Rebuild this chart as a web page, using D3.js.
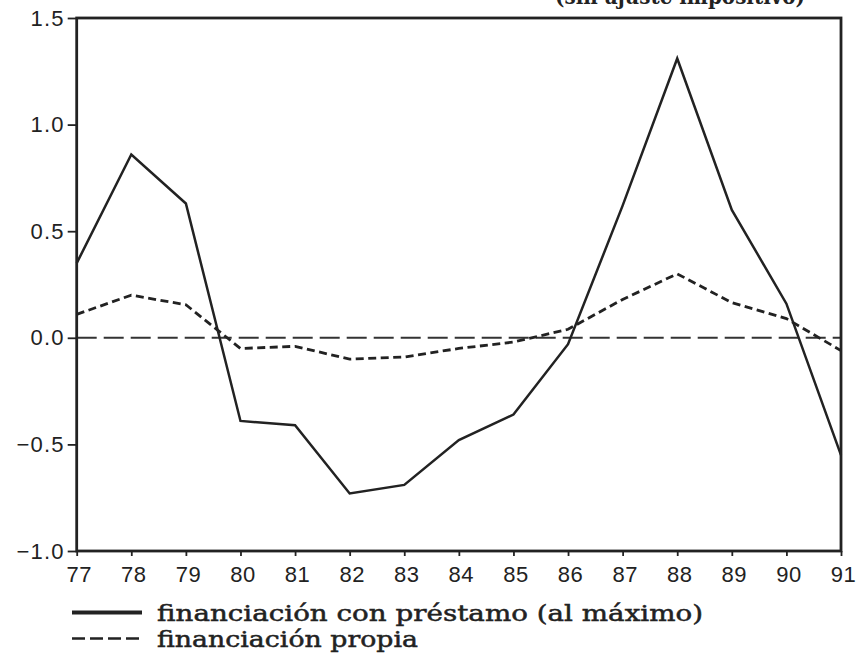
<!DOCTYPE html>
<html>
<head>
<meta charset="utf-8">
<script src="https://cdn.jsdelivr.net/npm/d3@7"></script>
<style>
  html, body { margin: 0; padding: 0; background: #fff; }
  svg { display: block; }
</style>
</head>
<body>
<svg id="chart" width="861" height="662"></svg>
<script>
// ---- data ----
const years = [77, 78, 79, 80, 81, 82, 83, 84, 85, 86, 87, 88, 89, 90, 91];
const prestamo = [0.35, 0.86, 0.63, -0.39, -0.41, -0.73, -0.69, -0.48, -0.36, -0.03, 0.62, 1.31, 0.60, 0.16, -0.55];
const propia = [0.11, 0.20, 0.155, -0.05, -0.04, -0.10, -0.09, -0.05, -0.02, 0.04, 0.18, 0.30, 0.165, 0.09, -0.06];
const yTicks = [-1.0, -0.5, 0.0, 0.5, 1.0, 1.5];
const seriesNames = ["financiación con préstamo (al máximo)", "financiación propia"];
const titleText = "(sin ajuste impositivo)";

// ---- layout ----
const svg = d3.select("#chart");
const plotLeft = 76.7, plotRight = 841, plotTop = 18, plotBottom = 551;
const ink = "#222";

const x = d3.scaleLinear().domain([77, 91]).range([plotLeft, plotRight]);
const y = d3.scaleLinear().domain([-1, 1.5]).range([plotBottom, plotTop]);

// title (cut at top of the page)
svg.append("text")
  .attr("x", 555).attr("y", 4)
  .attr("font-family", "DejaVu Serif, serif")
  .attr("font-weight", "bold")
  .attr("font-size", 22)
  .attr("textLength", 250)
  .attr("lengthAdjust", "spacingAndGlyphs")
  .attr("fill", ink)
  .text(titleText);

// zero reference line
svg.append("line")
  .attr("x1", plotLeft).attr("x2", plotRight)
  .attr("y1", y(0)).attr("y2", y(0))
  .attr("stroke", "#333")
  .attr("stroke-width", 2)
  .attr("stroke-dasharray", "20,7");

const line = d3.line()
  .x((d, i) => x(years[i]))
  .y(d => y(d));

// series: propia (short dashes)
svg.append("path")
  .datum(propia)
  .attr("d", line)
  .attr("fill", "none")
  .attr("stroke", ink)
  .attr("stroke-width", 2.8)
  .attr("stroke-dasharray", "8,4.5");

// series: prestamo (solid)
svg.append("path")
  .datum(prestamo)
  .attr("d", line)
  .attr("fill", "none")
  .attr("stroke", ink)
  .attr("stroke-width", 2.5)
  .attr("stroke-linejoin", "miter");

// frame
svg.append("rect")
  .attr("x", plotLeft).attr("y", plotTop)
  .attr("width", plotRight - plotLeft).attr("height", plotBottom - plotTop)
  .attr("fill", "none")
  .attr("stroke", ink)
  .attr("stroke-width", 2.8);

// y axis
const yAxis = svg.append("g")
  .attr("transform", `translate(${plotLeft},0)`)
  .call(d3.axisLeft(y).tickValues(yTicks).tickFormat(d3.format(".1f")).tickSize(9).tickPadding(3));
yAxis.select(".domain").remove();
yAxis.selectAll("line").attr("stroke", ink).attr("stroke-width", 1.8);
yAxis.selectAll("text")
  .attr("font-family", "Liberation Sans, Arial, sans-serif")
  .attr("font-size", 22)
  .attr("letter-spacing", 1.2)
  .attr("fill", ink);

// x axis
const xAxis = svg.append("g")
  .attr("transform", `translate(0,${plotBottom})`)
  .call(d3.axisBottom(x).tickValues(years).tickFormat(d3.format("d")).tickSize(5));
xAxis.select(".domain").remove();
xAxis.selectAll("line").attr("stroke", ink).attr("stroke-width", 1.8);
xAxis.selectAll("text")
  .attr("y", 31).attr("dy", null).attr("dx", 2)
  .attr("font-family", "Liberation Sans, Arial, sans-serif")
  .attr("font-size", 22)
  .attr("letter-spacing", 0.5)
  .attr("fill", ink);

// legend
const legend = svg.append("g");
legend.append("line")
  .attr("x1", 72).attr("x2", 142).attr("y1", 612.5).attr("y2", 612.5)
  .attr("stroke", ink).attr("stroke-width", 4);
legend.append("line")
  .attr("x1", 72).attr("x2", 142).attr("y1", 638.5).attr("y2", 638.5)
  .attr("stroke", ink).attr("stroke-width", 2.6)
  .attr("stroke-dasharray", "13,5");
const legendLens = [546, 261];
const legendY = [620.5, 646.5];
seriesNames.forEach((name, i) => {
  legend.append("text")
    .attr("x", 157).attr("y", legendY[i])
    .attr("font-family", "DejaVu Serif, serif")
    .attr("font-size", 23)
    .attr("textLength", legendLens[i])
    .attr("lengthAdjust", "spacingAndGlyphs")
    .attr("fill", ink)
    .attr("stroke", ink)
    .attr("stroke-width", 0.5)
    .text(name);
});
</script>
</body>
</html>
